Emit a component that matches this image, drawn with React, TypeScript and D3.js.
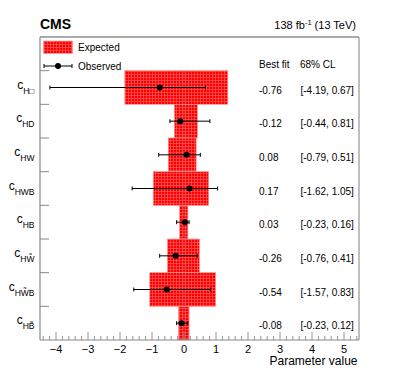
import React from 'react';
import * as d3 from 'd3';

// Wilson coefficients (subscripts) and fit results
const params = ['H\u25A1', 'HD', 'HW', 'HWB', 'HB', 'HW\u0303', 'HW\u0303B', 'HB\u0303'];
const bestFit = [-0.76, -0.12, 0.08, 0.17, 0.03, -0.26, -0.54, -0.08];
const obsLo = [-4.19, -0.44, -0.79, -1.62, -0.23, -0.76, -1.57, -0.23];
const obsHi = [0.67, 0.81, 0.51, 1.05, 0.16, 0.41, 0.83, 0.12];
const expLo = [-1.85, -0.3, -0.49, -0.96, -0.14, -0.52, -1.07, -0.17];
const expHi = [1.37, 0.42, 0.38, 0.77, 0.12, 0.48, 0.99, 0.16];
const xTicks = [-4, -3, -2, -1, 0, 1, 2, 3, 4, 5];

const fmt = (v: number) => v.toFixed(2);

export default function App() {
  const W = 399, H = 379;
  const left = 40, right = 359, top = 37, bottom = 340;

  const x = d3.scaleLinear().domain([-4.5, 5.5]).range([left, right + 1]);
  const slots = d3.scaleBand<string>().domain(['legend', ...params]).range([top, bottom]);
  const y = (i: number) => slots(params[i])!;
  const bh = slots.bandwidth();
  const rowsTop = slots(params[0])!;

  const minor = d3.range(-4.4, 5.5, 0.2).filter(v => Math.abs(v - Math.round(v)) > 0.01);
  const font = 'Liberation Sans, Arial, Helvetica, sans-serif';

  return (
    <svg width={W} height={H} style={{ position: 'absolute', left: 0, top: 0 }} fontFamily={font}>
      <defs>
        <pattern id="grid" width="3" height="3" patternUnits="userSpaceOnUse">
          <rect width="3" height="3" fill="#ff0000" />
          <path d="M2.5,0V3M0,2.5H3" stroke="#ff5a5a" strokeWidth="0.7" />
        </pattern>
      </defs>
      <rect width={W} height={H} fill="#fff" />

      {/* expected boxes */}
      {params.map((p, i) => (
        <rect key={'e' + p} x={x(expLo[i])} y={y(i)} width={x(expHi[i]) - x(expLo[i])} height={bh}
          fill="url(#grid)" stroke="#ff9090" strokeWidth={0.6} />
      ))}

      {/* zero line */}
      <line x1={x(0)} x2={x(0)} y1={rowsTop} y2={bottom} stroke="#777" strokeDasharray="2,2" strokeWidth={0.8} />

      {/* observed */}
      {params.map((p, i) => {
        const cy = y(i) + bh / 2;
        return (
          <g key={'o' + p}>
            <line x1={x(obsLo[i])} x2={x(obsHi[i])} y1={cy} y2={cy} stroke="#000" strokeWidth={1} />
            <line x1={x(obsLo[i])} x2={x(obsLo[i])} y1={cy - 2} y2={cy + 2} stroke="#000" />
            <line x1={x(obsHi[i])} x2={x(obsHi[i])} y1={cy - 2} y2={cy + 2} stroke="#000" />
            <circle cx={x(bestFit[i])} cy={cy} r={3} fill="#000" />
          </g>
        );
      })}

      {/* frame */}
      <line x1={left} x2={right} y1={top} y2={top} stroke="#555" strokeWidth={1} />
      <line x1={right} x2={right} y1={top} y2={bottom} stroke="#aaa" strokeWidth={1.5} />
      <line x1={left} x2={left} y1={top} y2={bottom} stroke="#888" strokeWidth={1.2} />
      <line x1={left} x2={right} y1={bottom} y2={bottom} stroke="#888" strokeWidth={1.2} />

      {/* y separators */}
      {params.map((p, i) => (
        <line key={'s' + p} x1={left} x2={left + 9} y1={y(i)} y2={y(i)} stroke="#888" strokeWidth={1} />
      ))}

      {/* x ticks */}
      {minor.map(v => (
        <line key={'m' + v} x1={x(v)} x2={x(v)} y1={bottom} y2={bottom - 4} stroke="#888" strokeWidth={0.9} />
      ))}
      {xTicks.map(v => (
        <g key={'t' + v}>
          <line x1={x(v)} x2={x(v)} y1={bottom} y2={bottom - 8} stroke="#888" strokeWidth={0.9} />
          <text x={x(v)} y={353} fontSize={11} textAnchor="middle">{v < 0 ? '\u2212' + Math.abs(v) : v}</text>
        </g>
      ))}
      <text x={357.5} y={365} fontSize={12} textAnchor="end">Parameter value</text>

      {/* y labels */}
      {params.map((p, i) => {
        const cy = y(i) + bh / 2;
        return (
          <text key={'l' + p} x={34.5} y={cy + 1} textAnchor="end" fontSize={12}>
            c<tspan fontSize={8.5} dy={5}>{p}</tspan>
          </text>
        );
      })}

      {/* numbers */}
      <text x={259} y={68} fontSize={10}>Best fit</text>
      <text x={300} y={68} fontSize={10}>68% CL</text>
      {params.map((p, i) => {
        const cy = y(i) + bh / 2;
        return (
          <g key={'n' + p}>
            <text x={259} y={cy + 6} fontSize={10}>{fmt(bestFit[i])}</text>
            <text x={300.5} y={cy + 6} fontSize={10}>{`[${fmt(obsLo[i])}, ${fmt(obsHi[i])}]`}</text>
          </g>
        );
      })}

      {/* legend */}
      <rect x={43.5} y={41} width={29} height={12.5} fill="url(#grid)" stroke="#ff9090" strokeWidth={0.6} />
      <text x={78} y={51} fontSize={10}>Expected</text>
      <line x1={44} x2={72} y1={66} y2={66} stroke="#000" />
      <line x1={44} x2={44} y1={64} y2={68} stroke="#000" />
      <line x1={72} x2={72} y1={64} y2={68} stroke="#000" />
      <circle cx={58} cy={66} r={3} fill="#000" />
      <text x={78} y={69.5} fontSize={10}>Observed</text>

      {/* header */}
      <text x={40} y={29.3} fontSize={14} fontWeight="bold">CMS</text>
      <text x={356} y={29.3} fontSize={11} textAnchor="end">
        138 fb<tspan fontSize={7.5} dy={-4}>-1</tspan><tspan dy={4}> (13 TeV)</tspan>
      </text>
    </svg>
  );
}
